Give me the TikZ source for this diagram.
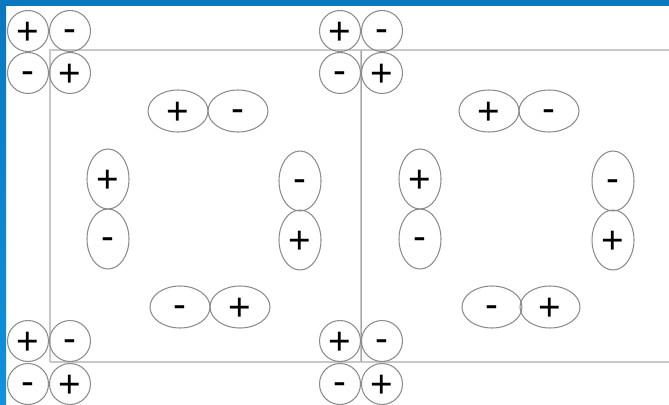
\documentclass[tikz,border=0pt]{standalone}
\usepackage{fontspec}
\setmainfont{Liberation Sans}
\usetikzlibrary{shapes.geometric}
\definecolor{frameblue}{RGB}{10,120,190}
\definecolor{frameblue2}{RGB}{17,145,222}
\definecolor{wallgray}{RGB}{200,200,200}
\definecolor{ringgray}{RGB}{140,140,140}
\tikzset{
  charge/.style={draw=ringgray, line width=0.6pt, inner sep=0pt,
    text height=15.5pt, text depth=0pt, font=\fontsize{22}{22}\selectfont},
  corner/.style={charge, circle, minimum size=0.82cm},
  hpair/.style={charge, ellipse, minimum width=1.2cm, minimum height=0.84cm},
  vpair/.style={charge, ellipse, minimum width=0.84cm, minimum height=1.2cm},
  neg/.style={text height=12.5pt},
  wall/.style={draw=wallgray, line width=1.5pt}
}
\begin{document}
\begin{tikzpicture}[x=0.02cm, y=-0.02cm]
\useasboundingbox (0,0) rectangle (669,405);
\fill[white] (0,0) rectangle (669,405);
\fill[frameblue] (0,0) rectangle (669,6);
\shade[top color=frameblue, bottom color=frameblue2] (0,0) rectangle (6,405);

% walls
\draw[wall] (50,362)--(50,50)--(669,50);
\draw[wall] (50,362)--(669,362);
\draw[wall] (361,50)--(361,362);
\draw[black!35, line width=0.3pt] (361,50)--(361,362);

% corner charges
\node[corner] (ul1) at (28,31) {+};
\node[corner,neg] (ul2) at (70,31) {-};
\node[corner,neg] (ul3) at (28,73) {-};
\node[corner] (ul4) at (70,73) {+};

\node[corner] (um1) at (340,31) {+};
\node[corner,neg] (um2) at (382,31) {-};
\node[corner,neg] (um3) at (340,73) {-};
\node[corner] (um4) at (382,73) {+};

\node[corner] (ll1) at (28,341) {+};
\node[corner,neg] (ll2) at (70,341) {-};
\node[corner,neg] (ll3) at (28,384) {-};
\node[corner] (ll4) at (70,384) {+};

\node[corner] (lm1) at (340,341) {+};
\node[corner,neg] (lm2) at (382,341) {-};
\node[corner,neg] (lm3) at (340,384) {-};
\node[corner] (lm4) at (382,384) {+};

% first cell
\node[hpair] (a1) at (178,111) {+};
\node[hpair,neg] (a2) at (238,111) {-};
\node[vpair] (a3) at (108,179) {+};
\node[vpair,neg] (a4) at (108,239) {-};
\node[vpair,neg] (a5) at (300,181) {-};
\node[vpair] (a6) at (300,240) {+};
\node[hpair,neg] (a7) at (180,307) {-};
\node[hpair] (a8) at (240,307) {+};

% second cell
\node[hpair] (b1) at (489,111) {+};
\node[hpair,neg] (b2) at (549,111) {-};
\node[vpair] (b3) at (420,179) {+};
\node[vpair,neg] (b4) at (420,239) {-};
\node[vpair,neg] (b5) at (613,181) {-};
\node[vpair] (b6) at (613,240) {+};
\node[hpair,neg] (b7) at (492,307) {-};
\node[hpair] (b8) at (550,307) {+};
\end{tikzpicture}
\end{document}
